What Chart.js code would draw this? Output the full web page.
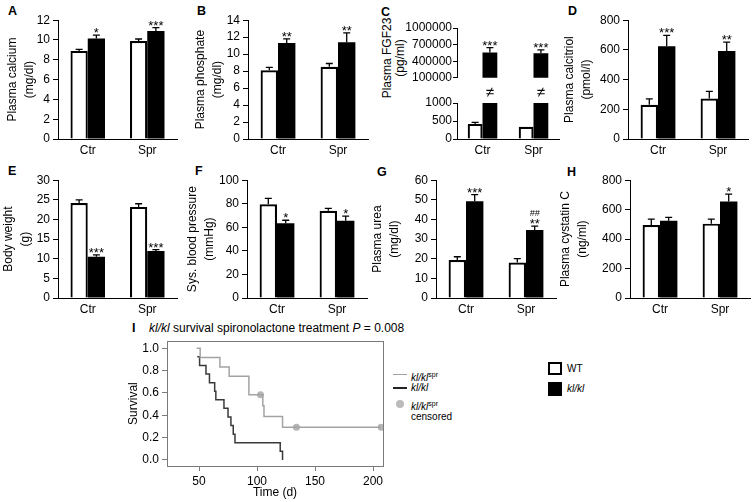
<!DOCTYPE html>
<html>
<head>
<meta charset="utf-8">
<script src="https://cdn.jsdelivr.net/npm/chart.js@4.4.1/dist/chart.umd.min.js"></script>
<style>
body { margin: 0; background: #fff; }
#fig { position: relative; width: 755px; height: 502px; font-family: "Liberation Sans", Arial, sans-serif; color: #000; overflow: hidden; }
#fig canvas { position: absolute; }
.letter { position: absolute; font-weight: bold; font-size: 12.5px; line-height: 12px; }
.txt { position: absolute; white-space: nowrap; line-height: 12px; }
.rot { position: absolute; transform: translate(-50%, -50%) rotate(-90deg); text-align: center; white-space: nowrap; font-size: 12px; line-height: 13px; }
.box { position: absolute; box-sizing: border-box; }
.lline { position: absolute; height: 0; }
sup { font-size: 7px; vertical-align: 4px; font-style: normal; }
</style>
</head>
<body>
<div id="fig">
  <div class="letter" style="left:8px;top:5px">A</div>
  <div class="letter" style="left:197px;top:5px">B</div>
  <div class="letter" style="left:381px;top:6px">C</div>
  <div class="letter" style="left:568px;top:5px">D</div>
  <div class="letter" style="left:8px;top:165px">E</div>
  <div class="letter" style="left:195px;top:165px">F</div>
  <div class="letter" style="left:377px;top:166px">G</div>
  <div class="letter" style="left:567px;top:166px">H</div>
  <div class="letter" style="left:132px;top:322px">I</div>

  <div class="rot" style="left:394px;top:58px">Plasma FGF23<br>(pg/ml)</div>

  <div class="txt" style="left:149px;top:322px;font-size:12px"><i>kl/kl</i> survival spironolactone treatment <i>P</i> = 0.008</div>

  <div class="lline" style="left:393px;top:374px;width:14px;border-top:1.5px solid #a0a0a0"></div>
  <div class="txt" style="left:411px;top:369px;font-size:10px"><i>kl/kl</i><sup>spr</sup></div>
  <div class="lline" style="left:393px;top:387px;width:14px;border-top:2px solid #222"></div>
  <div class="txt" style="left:411px;top:382px;font-size:10px"><i>kl/kl</i></div>
  <div class="box" style="left:396px;top:400px;width:8px;height:8px;border-radius:50%;background:#bbb"></div>
  <div class="txt" style="left:411px;top:398px;font-size:10px"><i>kl/kl</i><sup>spr</sup></div>
  <div class="txt" style="left:411px;top:411px;font-size:10px">censored</div>

  <div class="box" style="left:548px;top:362px;width:14px;height:13px;border:2.5px solid #000;background:#fff"></div>
  <div class="txt" style="left:567px;top:363px;font-size:10px">WT</div>
  <div class="box" style="left:548px;top:382px;width:14px;height:14px;background:#000"></div>
  <div class="txt" style="left:567px;top:383px;font-size:10px"><i>kl/kl</i></div>
</div>
<script>
const groups = ['Ctr', 'Spr']

// A plasma calcium
const calciumWT = [8.9, 9.9]
const calciumWTErr = [0.15, 0.2]
const calciumKl = [10.15, 10.9]
const calciumKlErr = [0.35, 0.35]
const calciumStars = ['*', '***']

// B plasma phosphate
const phosphateWT = [8.1, 8.5]
const phosphateWTErr = [0.35, 0.4]
const phosphateKl = [11.3, 11.4]
const phosphateKlErr = [0.5, 1.1]
const phosphateStars = ['**', '**']

// C plasma FGF23 (broken axis)
const fgf23WT = [420, 340]
const fgf23WTErr = [40, 0]
const fgf23Kl = [555000, 545000]
const fgf23KlErr = [90000, 60000]
const fgf23Stars = ['***', '***']
const fgf23UpperTicks = [100000, 400000, 700000, 1000000]
const fgf23LowerTicks = [0, 500, 1000]

// D plasma calcitriol
const calcitriolWT = [230, 273]
const calcitriolWTErr = [40, 48]
const calcitriolKl = [624, 592]
const calcitriolKlErr = [74, 60]
const calcitriolStars = ['***', '**']

// E body weight
const weightWT = [24.2, 23.2]
const weightWTErr = [0.8, 0.8]
const weightKl = [10.5, 12.0]
const weightKlErr = [0.5, 0.3]
const weightStars = ['***', '***']

// F systolic blood pressure
const pressureWT = [79.5, 74]
const pressureWTErr = [5, 2]
const pressureKl = [63.5, 65.5]
const pressureKlErr = [2.5, 4]
const pressureStars = ['*', '*']

// G plasma urea
const ureaWT = [19.3, 18.1]
const ureaWTErr = [1.7, 2]
const ureaKl = [49.3, 34.6]
const ureaKlErr = [3.4, 2]
const ureaStars = ['***', '##\n**']

// H plasma cystatin C
const cystatinWT = [495, 505]
const cystatinWTErr = [40, 30]
const cystatinKl = [525, 655]
const cystatinKlErr = [22, 50]
const cystatinStars = ['', '*']

// I survival
const sprDays = [48, 51, 68, 76, 93, 105, 106, 122, 207]
const sprSurvival = [1.0, 0.917, 0.833, 0.75, 0.583, 0.486, 0.389, 0.292, 0.292]
const klDays = [48.5, 50.5, 56, 59, 63.5, 64.5, 71.5, 75, 77.5, 79.5, 81, 120, 122]
const klSurvival = [0.923, 0.846, 0.769, 0.692, 0.615, 0.538, 0.462, 0.385, 0.308, 0.231, 0.154, 0.077, 0]
const censoredDays = [103, 134, 207]
const censoredSurvival = [0.583, 0.292, 0.292]
const survivalTicks = [0, 0.2, 0.4, 0.6, 0.8, 1.0]
const dayTicks = [50, 100, 150, 200]

const FONT = '"Liberation Sans", Arial, sans-serif'
Chart.defaults.font.family = FONT
Chart.defaults.font.size = 12
Chart.defaults.color = '#000'

const fig = document.getElementById('fig')

function addCanvas(left, top, w, h) {
	const c = document.createElement('canvas')
	c.width = w
	c.height = h
	c.style.left = left + 'px'
	c.style.top = top + 'px'
	c.style.width = w + 'px'
	c.style.height = h + 'px'
	fig.appendChild(c)
	return c
}

function errorBars(errs, stars, breakMark) {
	return {
		id: 'errorBars',
		afterDatasetsDraw(chart) {
			const ctx = chart.ctx
			const ys = chart.scales.y
			ctx.save()
			ctx.strokeStyle = '#000'
			ctx.fillStyle = '#000'
			ctx.lineWidth = 1.3
			ctx.textAlign = 'center'
			ctx.textBaseline = 'alphabetic'
			errs.forEach((err, di) => {
				const meta = chart.getDatasetMeta(di)
				meta.data.forEach((bar, i) => {
					const v = chart.data.datasets[di].data[i]
					if (v > ys.max) {
						if (breakMark) {
							ctx.font = '15px ' + FONT
							ctx.textBaseline = 'middle'
							ctx.fillText('\u2260', bar.x, chart.chartArea.top - 10)
							ctx.textBaseline = 'alphabetic'
						}
						return
					}
					if (v < ys.min) return
					const y0 = ys.getPixelForValue(v)
					const y1 = ys.getPixelForValue(v + err[i])
					if (err[i] > 0) {
						ctx.beginPath()
						ctx.moveTo(bar.x, y0)
						ctx.lineTo(bar.x, y1)
						ctx.moveTo(bar.x - 3.5, y1)
						ctx.lineTo(bar.x + 3.5, y1)
						ctx.stroke()
					}
					const s = stars[di] && stars[di][i]
					if (s) {
						s.split('\n').forEach(t => {
							if (t.indexOf('#') >= 0) {
								ctx.font = 'italic 9px ' + FONT
								ctx.fillText(t, bar.x, y1 - 10)
							} else {
								ctx.font = '13px ' + FONT
								ctx.fillText(t, bar.x, y1 + 2)
							}
						})
					}
				})
			})
			ctx.restore()
		}
	}
}

function barPanel(p) {
	const padTop = p.padTop || 10
	const xh = p.showX === false ? 0 : 22
	const padBottom = xh ? 0 : 8
	const left = p.axisX - p.yw
	const w = p.right - left + 4
	const h = p.zero - p.top + padTop + xh + padBottom
	const canvas = addCanvas(left, p.top - padTop, w, h)
	return new Chart(canvas, {
		type: 'bar',
		data: {
			labels: groups,
			datasets: [
				{ label: 'WT', data: p.wt, backgroundColor: '#fff', borderColor: '#000', borderWidth: 2.2 },
				{ label: 'kl/kl', data: p.kl, backgroundColor: '#000', borderWidth: 0 }
			]
		},
		options: {
			responsive: false,
			animation: false,
			layout: { padding: { top: padTop, right: 4, left: 0, bottom: padBottom } },
			plugins: { legend: { display: false }, tooltip: { enabled: false } },
			datasets: { bar: { categoryPercentage: 0.58, barPercentage: 1 } },
			scales: {
				x: {
					display: p.showX !== false,
					grid: { display: false, drawTicks: false },
					border: { color: '#000', width: 1 },
					ticks: { padding: 4 },
					afterFit(s) { s.height = xh }
				},
				y: {
					min: p.min,
					max: p.max,
					afterBuildTicks(s) { if (p.ticks) s.ticks = p.ticks.map(v => ({ value: v })) },
					ticks: { stepSize: p.step, autoSkip: false, padding: p.tickPad || 3, callback: v => String(v) },
					grid: { drawOnChartArea: false, tickLength: p.tickLen || 5, color: '#000' },
					border: { color: '#000', width: 1 },
					title: { display: !!p.title, text: p.title, padding: 0, font: { size: 12, lineHeight: 17 / 12 } },
					afterFit(s) { s.width = p.yw }
				}
			}
		},
		plugins: [errorBars([p.wtErr, p.klErr], [null, p.stars], p.breakMark)]
	})
}

// row 1
barPanel({ axisX: 58, yw: 54, top: 20, zero: 139, right: 177, min: 0, max: 12, step: 2,
	title: ['Plasma calcium', '(mg/dl)'], wt: calciumWT, wtErr: calciumWTErr, kl: calciumKl, klErr: calciumKlErr, stars: calciumStars })
barPanel({ axisX: 248, yw: 56, top: 20, zero: 139, right: 368, min: 0, max: 14, step: 2,
	title: ['Plasma phosphate', '(mg/dl)'], wt: phosphateWT, wtErr: phosphateWTErr, kl: phosphateKl, klErr: phosphateKlErr, stars: phosphateStars })
barPanel({ axisX: 457, yw: 55, top: 28, zero: 78, right: 559, min: 100000, max: 1000000, ticks: fgf23UpperTicks,
	showX: false, tickLen: 4, tickPad: 1,
	wt: fgf23WT, wtErr: fgf23WTErr, kl: fgf23Kl, klErr: fgf23KlErr, stars: fgf23Stars })
barPanel({ axisX: 457, yw: 55, top: 103, zero: 139, right: 559, min: 0, max: 1000, ticks: fgf23LowerTicks,
	padTop: 20, tickLen: 4, tickPad: 1, breakMark: true,
	wt: fgf23WT, wtErr: fgf23WTErr, kl: fgf23Kl, klErr: fgf23KlErr, stars: ['', ''] })
barPanel({ axisX: 628, yw: 67, top: 20, zero: 139, right: 748, min: 0, max: 800, step: 200,
	title: ['Plasma calcitriol', '(pmol/l)'], wt: calcitriolWT, wtErr: calcitriolWTErr, kl: calcitriolKl, klErr: calcitriolKlErr, stars: calcitriolStars })

// row 2
barPanel({ axisX: 58, yw: 58, top: 180, zero: 298, right: 177, min: 0, max: 30, step: 5,
	title: ['Body weight', '(g)'], wt: weightWT, wtErr: weightWTErr, kl: weightKl, klErr: weightKlErr, stars: weightStars })
barPanel({ axisX: 247, yw: 63, top: 180, zero: 298, right: 367, min: 0, max: 100, step: 20,
	title: ['Sys. blood pressure', '(mmHg)'], wt: pressureWT, wtErr: pressureWTErr, kl: pressureKl, klErr: pressureKlErr, stars: pressureStars })
barPanel({ axisX: 436, yw: 67, top: 180, zero: 298, right: 556, min: 0, max: 60, step: 10,
	title: ['Plasma urea', '(mg/dl)'], wt: ureaWT, wtErr: ureaWTErr, kl: ureaKl, klErr: ureaKlErr, stars: ureaStars })
barPanel({ axisX: 630, yw: 73, top: 180, zero: 298, right: 750, min: 0, max: 800, step: 200,
	title: ['Plasma cystatin C', '(ng/ml)'], wt: cystatinWT, wtErr: cystatinWTErr, kl: cystatinKl, klErr: cystatinKlErr, stars: cystatinStars })

// I survival curve
const boxPlugin = {
	id: 'box',
	afterDraw(chart) {
		const { ctx, chartArea: a } = chart
		ctx.save()
		ctx.strokeStyle = '#7a7a7a'
		ctx.lineWidth = 1
		ctx.strokeRect(Math.round(a.left) + 0.5, Math.round(a.top) + 0.5, Math.round(a.right - a.left), Math.round(a.bottom - a.top))
		ctx.restore()
	}
}

const survCanvas = addCanvas(125, 331, 263, 170)
new Chart(survCanvas, {
	type: 'line',
	data: {
		datasets: [
			{ label: 'kl/kl spr', data: sprDays.map((d, i) => ({ x: d, y: sprSurvival[i] })), stepped: 'before',
				borderColor: '#a3a3a3', borderWidth: 1.5, pointRadius: 0, fill: false },
			{ label: 'kl/kl', data: klDays.map((d, i) => ({ x: d, y: klSurvival[i] })), stepped: 'before',
				borderColor: '#3a3a3a', borderWidth: 1.5, pointRadius: 0, fill: false },
			{ label: 'censored', data: censoredDays.map((d, i) => ({ x: d, y: censoredSurvival[i] })), showLine: false,
				pointRadius: 3.5, pointBackgroundColor: '#b5b5b5', pointBorderColor: '#b5b5b5', pointBorderWidth: 0 }
		]
	},
	options: {
		responsive: false,
		animation: false,
		layout: { padding: { top: 10, right: 5, left: 0, bottom: 0 } },
		plugins: { legend: { display: false }, tooltip: { enabled: false } },
		scales: {
			x: {
				type: 'linear',
				min: 22.4,
				max: 208.6,
				afterBuildTicks(s) { s.ticks = dayTicks.map(v => ({ value: v })) },
				ticks: { padding: 3, autoSkip: false, color: '#000' },
				grid: { drawOnChartArea: false, tickLength: 5, color: '#7a7a7a' },
				border: { color: '#7a7a7a' },
				title: { display: true, text: 'Time (d)', padding: 0, font: { size: 12, lineHeight: 17 / 12 } },
				afterFit(s) { s.height = 35 }
			},
			y: {
				min: -0.054,
				max: 1.063,
				afterBuildTicks(s) { s.ticks = survivalTicks.map(v => ({ value: v })) },
				ticks: { padding: 3, autoSkip: false, callback: v => Number(v).toFixed(1) },
				grid: { drawOnChartArea: false, tickLength: 5, color: '#7a7a7a' },
				border: { color: '#7a7a7a' },
				title: { display: true, text: 'Survival', padding: 0, font: { size: 12, lineHeight: 17 / 12 } },
				afterFit(s) { s.width = 42 }
			}
		}
	},
	plugins: [boxPlugin]
})
</script>
</body>
</html>
